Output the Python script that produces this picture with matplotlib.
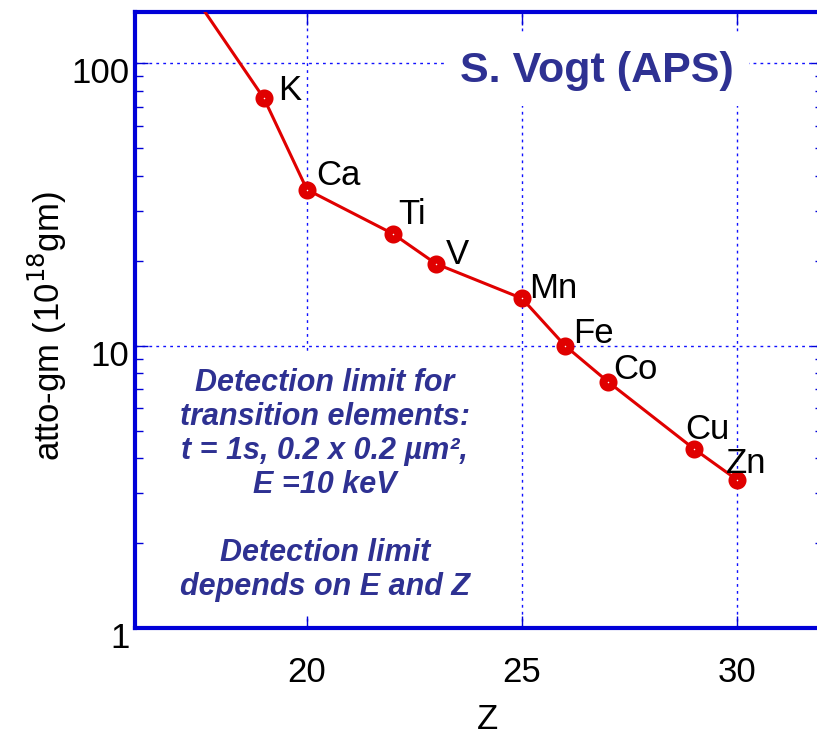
import matplotlib
matplotlib.use("Agg")
import matplotlib.pyplot as plt
import matplotlib.transforms as mtransforms

plt.rcParams["font.family"] = ["Liberation Sans", "DejaVu Sans"]

# Atomic number and detection limit (atto-gm) per element
elements = ["Cl", "K", "Ca", "Ti", "V", "Mn", "Fe", "Co", "Cu", "Zn"]
z_values = [17, 19, 20, 22, 23, 25, 26, 27, 29, 30]
limits = [210, 75.1, 35.7, 24.9, 19.5, 14.7, 10.0, 7.45, 4.31, 3.35]

# label offsets (points) relative to each point
label_dx = [10, 10, 7, 4, 7, 5, 6, 4, -6, -8]
label_dy = [7, 6, 10, 14, 7, 7, 9, 9, 14, 12]

x_ticks = [20, 25, 30]
y_ticks = [1, 10, 100]
y_tick_labels = ["1", "10", "100"]

AXIS_BLUE = "#0000d8"
TEXT_BLUE = "#2e3192"
LINE_RED = "#e00000"

fig = plt.figure(figsize=(8.17, 7.38), dpi=100)
ax = fig.add_axes([135 / 817, 110 / 738, 688 / 817, 616 / 738])
ax.set_yscale("log")
ax.set_xlim(16, 32)
ax.set_ylim(1, 152)

# grid drawn by hand so the text boxes can hide it while ticks stay on top
for xv in x_ticks:
    ax.axvline(xv, color="#1010ff", lw=1.0, dashes=(2, 3), zorder=1)
for yv in y_ticks:
    ax.axhline(yv, color="#1010ff", lw=1.0, dashes=(2, 3), zorder=1)
ax.set_axisbelow(False)

ax.plot(z_values, limits, color=LINE_RED, lw=2.2, marker="o", ms=7.2,
        mfc="white", mec=LINE_RED, mew=5.8, zorder=4)

for name, zv, lv, dx, dy in zip(elements, z_values, limits, label_dx, label_dy):
    ax.annotate(name, (zv, lv), xytext=(dx, dy), textcoords="offset points",
                ha="left", va="center", fontsize=25, color="black", zorder=5)

ax.set_xticks(x_ticks)
ax.set_xticklabels([str(v) for v in x_ticks])
ax.set_yticks(y_ticks)
ax.set_yticklabels(y_tick_labels)
ax.tick_params(which="both", direction="in", top=True, right=True,
               color=AXIS_BLUE, width=1, labelsize=25, labelcolor="black")
ax.tick_params(axis="x", which="major", length=9, pad=20)
ax.tick_params(axis="y", which="major", length=9, pad=4)
ax.tick_params(axis="y", which="minor", length=6)
ax.tick_params(axis="x", which="minor", bottom=False, top=False)

offset = mtransforms.ScaledTranslation(0, -7 / 100, fig.dpi_scale_trans)
for lbl in ax.get_yticklabels():
    lbl.set_transform(lbl.get_transform() + offset)

for spine in ax.spines.values():
    spine.set_color(AXIS_BLUE)
    spine.set_linewidth(3)

ax.set_xlabel("Z", fontsize=25)
ax.xaxis.set_label_coords(0.512, -0.122)
ax.set_ylabel("atto-gm (10$^{18}$gm)", fontsize=25)
ax.yaxis.set_label_coords(-0.096, 0.49)

ax.text(0.672, 0.905, "S. Vogt (APS)", transform=ax.transAxes, ha="center",
        va="center", fontsize=31, fontweight="bold", color=TEXT_BLUE, zorder=2,
        bbox=dict(boxstyle="square,pad=0.35", fc="white", ec="none"))

note = ("Detection limit for\ntransition elements:\nt = 1s, 0.2 x 0.2 µm²,\n"
        "E =10 keV\n\nDetection limit\ndepends on E and Z")
ax.text(0.276, 0.232, note, transform=ax.transAxes, ha="center", va="center",
        fontsize=22, fontweight="bold", fontstyle="italic", color=TEXT_BLUE,
        linespacing=1.17, zorder=2,
        bbox=dict(boxstyle="square,pad=0.5", fc="white", ec="none"))

fig.savefig("out.png", dpi=100)
